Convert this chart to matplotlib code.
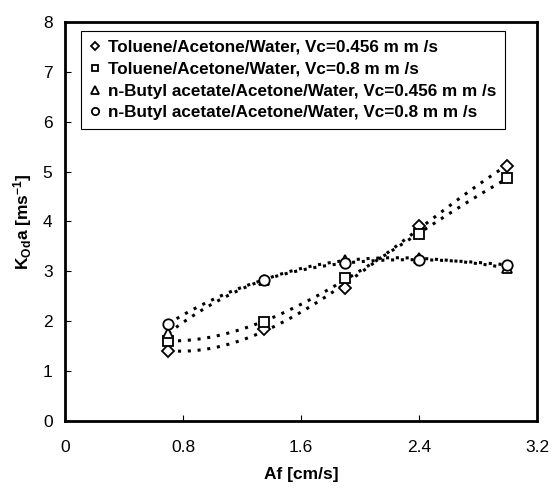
import numpy as np
import matplotlib
matplotlib.use("Agg")
import matplotlib.pyplot as plt

plt.rcParams['font.family'] = ['Liberation Sans', 'DejaVu Sans']
plt.rcParams['mathtext.fontset'] = 'custom'
plt.rcParams['mathtext.rm'] = 'Liberation Sans:bold'
plt.rcParams['mathtext.default'] = 'rm'

# data
af = [0.70, 1.35, 1.90, 2.40, 3.00]
tol_456 = [1.40, 1.85, 2.67, 3.91, 5.12]
tol_08 = [1.61, 1.98, 2.87, 3.74, 4.87]
but_456 = [1.76, 2.83, 3.22, 3.26, 3.07]
but_08 = [1.95, 2.83, 3.17, 3.23, 3.13]

labels = ["Toluene/Acetone/Water, Vc=0.456 m m /s",
          "Toluene/Acetone/Water, Vc=0.8 m m /s",
          "n-Butyl acetate/Acetone/Water, Vc=0.456 m m /s",
          "n-Butyl acetate/Acetone/Water, Vc=0.8 m m /s"]
series = [tol_456, tol_08, but_456, but_08]
markers = ['D', 's', '^', 'o']
msizes = [6.5, 7, 7.5, 7.5]

fig = plt.figure(figsize=(5.52, 4.91), dpi=100)
ax = fig.add_axes([0.1178, 0.1426, 0.855, 0.8126])

# polynomial trend lines (like excel)
xs = np.linspace(af[0], af[-1], 200)
for ys in series:
    p = np.polyfit(af, ys, 3)
    ax.plot(xs, np.polyval(p, xs), color='black', lw=2.2,
            linestyle=(0, (1, 2.2)), zorder=2)

for ys, m, ms, lab in zip(series, markers, msizes, labels):
    ax.plot(af, ys, linestyle='none', marker=m, ms=ms, mfc='white',
            mec='black', mew=1.3, label=lab, zorder=3)

ax.set_xlim(0, 3.2)
ax.set_ylim(0, 8)
ax.set_xticks([0, 0.8, 1.6, 2.4, 3.2])
ax.set_xticklabels(['0', '0.8', '1.6', '2.4', '3.2'])
ax.set_yticks(range(0, 9))
ax.tick_params(direction='in', length=4, width=0.8, labelsize=12.5)
ax.tick_params(axis='x', pad=14)
ax.tick_params(axis='y', pad=9)
for s in ax.spines.values():
    s.set_linewidth(2)

ax.set_xlabel("Af [cm/s]", fontsize=12.5, fontweight='bold', labelpad=8)
ax.set_ylabel(r"K$_{Od}$a [ms$^{-1}$]", fontsize=12.5, fontweight='bold',
              labelpad=6)

leg = ax.legend(loc='upper left', bbox_to_anchor=(0.0335, 0.9765),
                borderaxespad=0, fancybox=False, edgecolor='black',
                framealpha=1, handlelength=0.6, handletextpad=0.5,
                labelspacing=0.4, borderpad=0.5, markerscale=0.7,
                prop={'size': 12.3, 'weight': 'bold'})
leg.get_frame().set_linewidth(0.8)

fig.savefig("out.png", dpi=100)
